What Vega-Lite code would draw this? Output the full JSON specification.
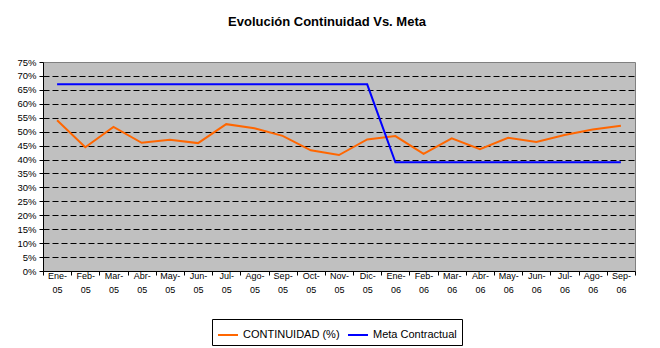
{
  "$schema": "https://vega.github.io/schema/vega-lite/v6.json",
  "width": 592,
  "height": 209,
  "autosize": {"type": "none"},
  "padding": {"left": 43, "top": 62, "right": 25, "bottom": 77},
  "background": "white",
  "title": {
    "text": "Evolución Continuidad Vs. Meta",
    "font": "Liberation Sans",
    "fontSize": 13,
    "fontWeight": "bold",
    "color": "black",
    "anchor": "middle",
    "dx": -12,
    "baseline": "alphabetic",
    "offset": 18
  },
  "data": {
    "values": [
      {"mes": "2005-01-15", "serie": "CONTINUIDAD (%)", "valor": 0.541},
      {"mes": "2005-02-15", "serie": "CONTINUIDAD (%)", "valor": 0.444},
      {"mes": "2005-03-15", "serie": "CONTINUIDAD (%)", "valor": 0.517},
      {"mes": "2005-04-15", "serie": "CONTINUIDAD (%)", "valor": 0.460},
      {"mes": "2005-05-15", "serie": "CONTINUIDAD (%)", "valor": 0.471},
      {"mes": "2005-06-15", "serie": "CONTINUIDAD (%)", "valor": 0.459},
      {"mes": "2005-07-15", "serie": "CONTINUIDAD (%)", "valor": 0.527},
      {"mes": "2005-08-15", "serie": "CONTINUIDAD (%)", "valor": 0.512},
      {"mes": "2005-09-15", "serie": "CONTINUIDAD (%)", "valor": 0.485},
      {"mes": "2005-10-15", "serie": "CONTINUIDAD (%)", "valor": 0.433},
      {"mes": "2005-11-15", "serie": "CONTINUIDAD (%)", "valor": 0.416},
      {"mes": "2005-12-15", "serie": "CONTINUIDAD (%)", "valor": 0.472},
      {"mes": "2006-01-15", "serie": "CONTINUIDAD (%)", "valor": 0.484},
      {"mes": "2006-02-15", "serie": "CONTINUIDAD (%)", "valor": 0.420},
      {"mes": "2006-03-15", "serie": "CONTINUIDAD (%)", "valor": 0.476},
      {"mes": "2006-04-15", "serie": "CONTINUIDAD (%)", "valor": 0.437},
      {"mes": "2006-05-15", "serie": "CONTINUIDAD (%)", "valor": 0.478},
      {"mes": "2006-06-15", "serie": "CONTINUIDAD (%)", "valor": 0.463},
      {"mes": "2006-07-15", "serie": "CONTINUIDAD (%)", "valor": 0.488},
      {"mes": "2006-08-15", "serie": "CONTINUIDAD (%)", "valor": 0.508},
      {"mes": "2006-09-15", "serie": "CONTINUIDAD (%)", "valor": 0.521},
      {"mes": "2005-01-15", "serie": "Meta Contractual", "valor": 0.67},
      {"mes": "2005-02-15", "serie": "Meta Contractual", "valor": 0.67},
      {"mes": "2005-03-15", "serie": "Meta Contractual", "valor": 0.67},
      {"mes": "2005-04-15", "serie": "Meta Contractual", "valor": 0.67},
      {"mes": "2005-05-15", "serie": "Meta Contractual", "valor": 0.67},
      {"mes": "2005-06-15", "serie": "Meta Contractual", "valor": 0.67},
      {"mes": "2005-07-15", "serie": "Meta Contractual", "valor": 0.67},
      {"mes": "2005-08-15", "serie": "Meta Contractual", "valor": 0.67},
      {"mes": "2005-09-15", "serie": "Meta Contractual", "valor": 0.67},
      {"mes": "2005-10-15", "serie": "Meta Contractual", "valor": 0.67},
      {"mes": "2005-11-15", "serie": "Meta Contractual", "valor": 0.67},
      {"mes": "2005-12-15", "serie": "Meta Contractual", "valor": 0.67},
      {"mes": "2006-01-15", "serie": "Meta Contractual", "valor": 0.39},
      {"mes": "2006-02-15", "serie": "Meta Contractual", "valor": 0.39},
      {"mes": "2006-03-15", "serie": "Meta Contractual", "valor": 0.39},
      {"mes": "2006-04-15", "serie": "Meta Contractual", "valor": 0.39},
      {"mes": "2006-05-15", "serie": "Meta Contractual", "valor": 0.39},
      {"mes": "2006-06-15", "serie": "Meta Contractual", "valor": 0.39},
      {"mes": "2006-07-15", "serie": "Meta Contractual", "valor": 0.39},
      {"mes": "2006-08-15", "serie": "Meta Contractual", "valor": 0.39},
      {"mes": "2006-09-15", "serie": "Meta Contractual", "valor": 0.39}
    ]
  },
  "encoding": {
    "y": {
      "field": "valor",
      "type": "quantitative",
      "scale": {"domain": [0, 0.75], "nice": false, "zero": true},
      "axis": {
        "title": null,
        "values": [0, 0.05, 0.1, 0.15, 0.2, 0.25, 0.3, 0.35, 0.4, 0.45, 0.5, 0.55, 0.6, 0.65, 0.7, 0.75],
        "format": ".0%",
        "labelFont": "Liberation Sans",
        "labelFontSize": 9.5,
        "labelColor": "black",
        "labelPadding": 3,
        "tickSize": 4,
        "tickColor": "black",
        "domainColor": "black",
        "grid": true,
        "gridColor": "black",
        "gridDash": [6, 3],
        "gridOpacity": {"condition": {"test": "datum.value >= 0.75 || datum.value <= 0", "value": 0}, "value": 1}
      }
    }
  },
  "layer": [
    {
      "mark": {"type": "line", "strokeWidth": 2},
      "encoding": {
        "x": {
          "field": "mes",
          "type": "ordinal",
          "timeUnit": "yearmonth",
          "scale": {"type": "band", "paddingInner": 0, "paddingOuter": 0},
          "axis": {
            "title": null,
            "orient": "bottom",
            "labelAngle": 0,
            "format": "%b-",
            "labelFont": "Liberation Sans",
            "labelFontSize": 9,
            "labelColor": "black",
            "labelPadding": -4,
            "tickBand": "extent",
            "tickSize": 4,
            "tickColor": "black",
            "domainColor": "black",
            "grid": false
          }
        },
        "color": {
          "field": "serie",
          "type": "nominal",
          "scale": {"domain": ["CONTINUIDAD (%)", "Meta Contractual"], "range": ["#FF6600", "#0000FF"]},
          "legend": {
            "title": null,
            "orient": "none",
            "legendX": 169,
            "legendY": 257,
            "direction": "horizontal",
            "strokeColor": "black",
            "padding": 5,
            "columnPadding": 4,
            "labelOffset": 4,
            "labelFont": "Liberation Sans",
            "labelFontSize": 11,
            "labelColor": "black",
            "symbolType": "stroke",
            "symbolSize": 400,
            "symbolStrokeWidth": 2
          }
        }
      }
    },
    {
      "mark": {"type": "point", "opacity": 0},
      "encoding": {
        "x": {
          "field": "mes",
          "type": "ordinal",
          "timeUnit": "yearmonth",
          "scale": {"type": "band", "paddingInner": 0, "paddingOuter": 0},
          "axis": {
            "title": null,
            "orient": "bottom",
            "labelAngle": 0,
            "format": "%y",
            "labelFont": "Liberation Sans",
            "labelFontSize": 9,
            "labelColor": "black",
            "labelPadding": 10,
            "tickBand": "extent",
            "tickSize": 4,
            "tickOpacity": 0,
            "domain": false,
            "grid": false
          }
        }
      }
    }
  ],
  "resolve": {"axis": {"x": "independent"}},
  "config": {
    "locale": {
      "time": {
        "dateTime": "%A, %e de %B de %Y, %X",
        "date": "%d/%m/%Y",
        "time": "%H:%M:%S",
        "periods": ["AM", "PM"],
        "days": ["domingo", "lunes", "martes", "miércoles", "jueves", "viernes", "sábado"],
        "shortDays": ["dom", "lun", "mar", "mié", "jue", "vie", "sáb"],
        "months": ["enero", "febrero", "marzo", "abril", "mayo", "junio", "julio", "agosto", "septiembre", "octubre", "noviembre", "diciembre"],
        "shortMonths": ["Ene", "Feb", "Mar", "Abr", "May", "Jun", "Jul", "Ago", "Sep", "Oct", "Nov", "Dic"]
      }
    },
    "view": {"fill": "#C0C0C0", "stroke": "#808080", "strokeWidth": 1}
  }
}
